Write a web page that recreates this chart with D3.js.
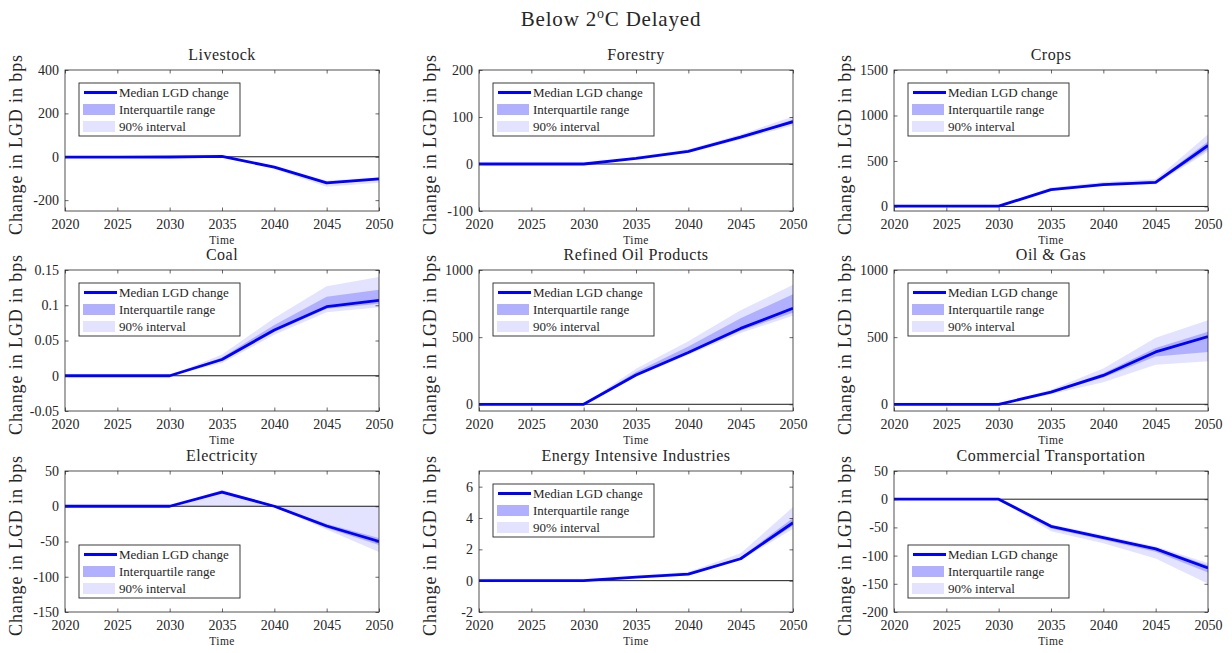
<!DOCTYPE html>
<html>
<head>
<meta charset="utf-8">
<script src="https://cdn.jsdelivr.net/npm/d3@7"></script>
<style>
  html, body { margin: 0; padding: 0; background: #fff; }
</style>
</head>
<body>
<svg id="fig" width="1232" height="653" font-family="'Liberation Serif', 'DejaVu Serif', serif"></svg>
<script>
// ---- data -------------------------------------------------------------
const years = [2020, 2025, 2030, 2035, 2040, 2045, 2050];

const sectors = [
  "Livestock", "Forestry", "Crops",
  "Coal", "Refined Oil Products", "Oil & Gas",
  "Electricity", "Energy Intensive Industries", "Commercial Transportation"
];

// median change in LGD (bps), one row per sector
const medianChange = [
  [-2, -2, -1, 2, -48, -120, -102],
  [0, 0, 0, 12, 27, 57, 90],
  [3, 3, 3, 185, 240, 265, 670],
  [0, 0, 0, 0.023, 0.065, 0.098, 0.107],
  [0, 0, 0, 218, 385, 565, 715],
  [0, 0, 0, 90, 215, 390, 505],
  [0, 0, 0, 20, 0, -28, -50],
  [0, 0, 0, 0.22, 0.42, 1.4, 3.7],
  [0, 0, 0, -48, -68, -88, -122]
];

// 25th percentile
const iqrLow = [
  [-3, -3, -2, 0, -52, -126, -108],
  [0, 0, 0, 11, 26, 55, 87],
  [1, 1, 1, 178, 235, 255, 625],
  [0, 0, 0, 0.021, 0.062, 0.095, 0.102],
  [0, 0, 0, 212, 378, 548, 682],
  [0, 0, 0, 85, 200, 355, 390],
  [0, 0, 0, 18, -1, -31, -55],
  [0, 0, 0, 0.2, 0.38, 1.35, 3.5],
  [0, 0, 0, -52, -72, -93, -130]
];

// 75th percentile
const iqrHigh = [
  [-1, -1, 0, 4, -45, -115, -98],
  [0, 0, 0, 13, 29, 60, 94],
  [5, 5, 5, 195, 255, 280, 715],
  [0, 0, 0, 0.026, 0.072, 0.112, 0.122],
  [0, 0, 0, 240, 430, 640, 820],
  [0, 0, 0, 98, 232, 420, 540],
  [0, 0, 0, 22, 1, -25, -45],
  [0, 0, 0, 0.25, 0.48, 1.5, 4.0],
  [0, 0, 0, -47, -66, -86, -117]
];

// 5th percentile
const p05 = [
  [-4, -4, -3, -2, -56, -138, -120],
  [-1, -1, -1, 10, 24, 52, 82],
  [0, 0, 0, 170, 228, 245, 600],
  [0, 0, 0, 0.018, 0.058, 0.09, 0.097],
  [0, 0, 0, 205, 368, 530, 660],
  [0, 0, 0, 75, 165, 295, 320],
  [0, 0, 0, 0, -1, -33, -65],
  [-0.05, -0.05, -0.05, 0.15, 0.33, 1.3, 3.3],
  [-1, -1, -1, -57, -78, -105, -150]
];

// 95th percentile
const p95 = [
  [0, 0, 1, 6, -42, -110, -95],
  [1, 1, 1, 15, 31, 63, 101],
  [8, 8, 8, 205, 270, 300, 790],
  [0, 0, 0, 0.03, 0.082, 0.127, 0.14],
  [0, 0, 0, 265, 470, 700, 890],
  [0, 0, 0, 108, 266, 495, 625],
  [0, 0, 0, 23, 1, 0, 0],
  [0.05, 0.05, 0.05, 0.3, 0.55, 1.75, 4.7],
  [1, 1, 1, -45, -64, -84, -113]
];

const yDomains = [
  [-250, 400], [-100, 200], [-50, 1500],
  [-0.05, 0.15], [-50, 1000], [-50, 1000],
  [-150, 50], [-2, 7], [-200, 50]
];

const yTickValues = [
  [-200, 0, 200, 400], [-100, 0, 100, 200], [0, 500, 1000, 1500],
  [-0.05, 0, 0.05, 0.1, 0.15], [0, 500, 1000], [0, 500, 1000],
  [-150, -100, -50, 0, 50], [-2, 0, 2, 4, 6], [-200, -150, -100, -50, 0, 50]
];

const legendLabels = ["Median LGD change", "Interquartile range", "90% interval"];
const legendCorner = ["top", "top", "top", "top", "top", "top", "bottom", "top", "bottom"];

// ---- layout & style ---------------------------------------------------
const serif = "'Liberation Serif', 'DejaVu Serif', serif";
const colLeft = [65, 479, 894];
const rowTop = [70, 270, 471];
const plotW = 314, plotH = 141;
const axisColor = "#262626";
const lineColor = "#0000ff";
const iqrColor = "#b0b0ff";
const outerColor = "#e3e3ff";

const svg = d3.select("#fig");

function label(sel, size) {
  return sel.attr("font-family", serif).attr("font-size", size).attr("fill", axisColor);
}

// figure title with superscript degree mark
const title = label(svg.append("text"), 21)
  .attr("x", 611).attr("y", 26)
  .attr("text-anchor", "middle")
  .attr("letter-spacing", 0.8);
title.append("tspan").text("Below 2");
title.append("tspan").attr("dy", -8).attr("font-size", 14).text("o");
title.append("tspan").attr("dy", 8).text("C Delayed");

const fmt = v => String(v);

sectors.forEach((name, i) => {
  const left = colLeft[i % 3];
  const top = rowTop[Math.floor(i / 3)];

  const x = d3.scaleLinear().domain([2020, 2050]).range([0, plotW]);
  const y = d3.scaleLinear().domain(yDomains[i]).range([plotH, 0]);

  const g = svg.append("g").attr("transform", `translate(${left},${top})`);

  const clipId = "clip" + i;
  g.append("clipPath").attr("id", clipId)
    .append("rect").attr("width", plotW).attr("height", plotH);

  const plot = g.append("g").attr("clip-path", `url(#${clipId})`);

  const idx = d3.range(years.length);

  const band = (lo, hi) => d3.area()
    .x(k => x(years[k]))
    .y0(k => y(lo[k]))
    .y1(k => y(hi[k]));

  plot.append("path")
    .attr("d", band(p05[i], p95[i])(idx))
    .attr("fill", outerColor);

  plot.append("path")
    .attr("d", band(iqrLow[i], iqrHigh[i])(idx))
    .attr("fill", iqrColor);

  // zero reference line
  plot.append("line")
    .attr("x1", 0).attr("x2", plotW)
    .attr("y1", y(0)).attr("y2", y(0))
    .attr("stroke", "#000").attr("stroke-width", 0.9);

  const line = d3.line()
    .x(k => x(years[k]))
    .y(k => y(medianChange[i][k]));

  plot.append("path")
    .attr("d", line(idx))
    .attr("fill", "none")
    .attr("stroke", lineColor)
    .attr("stroke-width", 2.8)
    .attr("stroke-linejoin", "round");

  // axes: ticks inward on all four sides
  const tickLen = 3.5;
  const xb = g.append("g").attr("transform", `translate(0,${plotH})`)
    .call(d3.axisBottom(x).tickValues(years).tickFormat(d3.format("d"))
      .tickSizeInner(-tickLen).tickSizeOuter(0).tickPadding(6));
  const xt = g.append("g")
    .call(d3.axisTop(x).tickValues(years).tickFormat("")
      .tickSizeInner(-tickLen).tickSizeOuter(0));
  const yl = g.append("g")
    .call(d3.axisLeft(y).tickValues(yTickValues[i]).tickFormat(fmt)
      .tickSizeInner(-tickLen).tickSizeOuter(0).tickPadding(6));
  const yr = g.append("g").attr("transform", `translate(${plotW},0)`)
    .call(d3.axisRight(y).tickValues(yTickValues[i]).tickFormat("")
      .tickSizeInner(-tickLen).tickSizeOuter(0));

  [xb, xt, yl, yr].forEach(a => {
    a.attr("font-family", serif).attr("font-size", 14);
    a.select(".domain").remove();
    a.selectAll(".tick line").attr("stroke", axisColor).attr("stroke-width", 0.7);
    a.selectAll(".tick text").attr("fill", axisColor);
  });
  xb.selectAll(".tick text").attr("dy", "0.85em");

  // frame
  g.append("rect")
    .attr("width", plotW).attr("height", plotH)
    .attr("fill", "none")
    .attr("stroke", axisColor).attr("stroke-width", 0.8);

  // titles and axis labels
  label(g.append("text"), 16)
    .attr("x", plotW / 2).attr("y", -10)
    .attr("text-anchor", "middle")
    .attr("letter-spacing", 0.5)
    .text(name);

  label(g.append("text"), 11.5)
    .attr("x", plotW / 2).attr("y", plotH + 33)
    .attr("text-anchor", "middle")
    .attr("letter-spacing", 0.4)
    .text("Time");

  label(g.append("text"), 18)
    .attr("transform", `translate(-43,${plotH / 2 + 4}) rotate(-90)`)
    .attr("text-anchor", "middle")
    .attr("letter-spacing", 0.9)
    .text("Change in LGD in bps");

  // legend
  const lgW = 161, lgH = 53;
  const lgX = 14;
  const lgY = legendCorner[i] === "top" ? 13 : plotH - 14 - lgH;
  const lg = g.append("g").attr("transform", `translate(${lgX},${lgY})`);
  lg.append("rect")
    .attr("width", lgW).attr("height", lgH)
    .attr("fill", "#fff")
    .attr("stroke", axisColor).attr("stroke-width", 0.9);

  const rowY = [9.5, 26.5, 43.5];
  lg.append("line")
    .attr("x1", 5).attr("x2", 38)
    .attr("y1", rowY[0]).attr("y2", rowY[0])
    .attr("stroke", lineColor).attr("stroke-width", 2.8);
  lg.append("rect")
    .attr("x", 4).attr("y", rowY[1] - 5.5)
    .attr("width", 32).attr("height", 11)
    .attr("fill", iqrColor);
  lg.append("rect")
    .attr("x", 4).attr("y", rowY[2] - 5.5)
    .attr("width", 32).attr("height", 11)
    .attr("fill", outerColor);

  legendLabels.forEach((lab, k) => {
    label(lg.append("text"), 13)
      .attr("x", 40).attr("y", rowY[k])
      .attr("dy", "0.35em")
      .text(lab);
  });
});
</script>
</body>
</html>
